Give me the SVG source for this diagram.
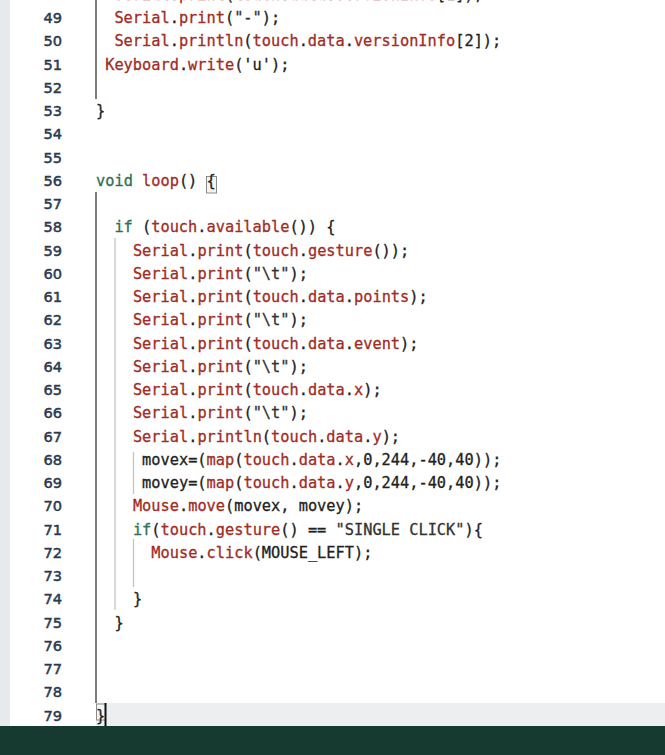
<svg xmlns="http://www.w3.org/2000/svg" width="665" height="755" viewBox="0 0 665 755">
<style>
.code{font-family:"DejaVu Sans Mono","Liberation Mono",monospace;font-size:15.3px;fill:#222;stroke:#222;stroke-width:0.3px;white-space:pre}
.r{fill:#a12c24;stroke:#a12c24}
.g{fill:#2f7052;stroke:#2f7052}
.s{fill:#333;stroke:#333}
.ln{font-family:"DejaVu Sans","Liberation Sans",sans-serif;font-size:14.6px;fill:#2a3a50;stroke:#2a3a50;stroke-width:0.5px;text-anchor:end}
.guide{stroke:#c4c4c4;stroke-width:1.3}
.scope{stroke:#5c5c5c;stroke-width:1.6}
</style>
<rect width="665" height="755" fill="#ffffff"/>
<g id="gutter">
<rect x="0" y="0" width="10" height="726" fill="#e6eaec"/>
<text class="ln" x="62" y="23.2">49</text>
<text class="ln" x="62" y="46.45">50</text>
<text class="ln" x="62" y="69.7">51</text>
<text class="ln" x="62" y="92.95">52</text>
<text class="ln" x="62" y="116.2">53</text>
<text class="ln" x="62" y="139.45">54</text>
<text class="ln" x="62" y="162.7">55</text>
<text class="ln" x="62" y="185.95">56</text>
<text class="ln" x="62" y="209.2">57</text>
<text class="ln" x="62" y="232.45">58</text>
<text class="ln" x="62" y="255.7">59</text>
<text class="ln" x="62" y="278.95">60</text>
<text class="ln" x="62" y="302.2">61</text>
<text class="ln" x="62" y="325.45">62</text>
<text class="ln" x="62" y="348.7">63</text>
<text class="ln" x="62" y="371.95">64</text>
<text class="ln" x="62" y="395.2">65</text>
<text class="ln" x="62" y="418.45">66</text>
<text class="ln" x="62" y="441.7">67</text>
<text class="ln" x="62" y="464.95">68</text>
<text class="ln" x="62" y="488.2">69</text>
<text class="ln" x="62" y="511.45">70</text>
<text class="ln" x="62" y="534.7">71</text>
<text class="ln" x="62" y="557.95">72</text>
<text class="ln" x="62" y="581.2">73</text>
<text class="ln" x="62" y="604.45">74</text>
<text class="ln" x="62" y="627.7">75</text>
<text class="ln" x="62" y="650.95">76</text>
<text class="ln" x="62" y="674.2">77</text>
<text class="ln" x="62" y="697.45">78</text>
<text class="ln" x="62" y="720.7">79</text>
</g>
<g id="current-line">
<rect x="96" y="703" width="569" height="23" fill="#eceeef"/>
</g>
<g id="guides">
<line class="scope" x1="96" y1="0" x2="96" y2="99"/>
<line class="scope" x1="96" y1="192" x2="96" y2="703"/>
<line class="guide" x1="115" y1="238" x2="115" y2="610"/>
<line class="guide" x1="133.5" y1="452" x2="133.5" y2="494"/>
<line class="guide" x1="133.5" y1="539" x2="133.5" y2="587"/>
</g>
<g id="bracket-marks">
<rect x="206.5" y="176.5" width="10" height="16.5" fill="#f4f4f4" stroke="#8a8a8a" stroke-width="1"/>
<rect x="96.5" y="704" width="9" height="16" fill="#f4f4f4" stroke="#8a8a8a" stroke-width="1"/>
</g>
<g id="code">
<text class="code" x="114.4" y="-0.05"><tspan class="r">Serial</tspan>.<tspan class="r">print</tspan>(<tspan class="r">touch</tspan>.<tspan class="r">data</tspan>.<tspan class="r">versionInfo</tspan>[1]);</text>
<text class="code" x="114.4" y="23.2"><tspan class="r">Serial</tspan>.<tspan class="r">print</tspan>(<tspan class="s">"-"</tspan>);</text>
<text class="code" x="114.4" y="46.45"><tspan class="r">Serial</tspan>.<tspan class="r">println</tspan>(<tspan class="r">touch</tspan>.<tspan class="r">data</tspan>.<tspan class="r">versionInfo</tspan>[2]);</text>
<text class="code" x="105.2" y="69.7"><tspan class="r">Keyboard</tspan>.<tspan class="r">write</tspan>('u');</text>
<text class="code" x="96" y="116.2">}</text>
<text class="code" x="96" y="185.95"><tspan class="g">void</tspan> <tspan class="r">loop</tspan>() {</text>
<text class="code" x="114.4" y="232.45"><tspan class="g">if</tspan> (<tspan class="r">touch</tspan>.<tspan class="r">available</tspan>()) {</text>
<text class="code" x="132.9" y="255.7"><tspan class="r">Serial</tspan>.<tspan class="r">print</tspan>(<tspan class="r">touch</tspan>.<tspan class="r">gesture</tspan>());</text>
<text class="code" x="132.9" y="278.95"><tspan class="r">Serial</tspan>.<tspan class="r">print</tspan>(<tspan class="s">"\t"</tspan>);</text>
<text class="code" x="132.9" y="302.2"><tspan class="r">Serial</tspan>.<tspan class="r">print</tspan>(<tspan class="r">touch</tspan>.<tspan class="r">data</tspan>.<tspan class="r">points</tspan>);</text>
<text class="code" x="132.9" y="325.45"><tspan class="r">Serial</tspan>.<tspan class="r">print</tspan>(<tspan class="s">"\t"</tspan>);</text>
<text class="code" x="132.9" y="348.7"><tspan class="r">Serial</tspan>.<tspan class="r">print</tspan>(<tspan class="r">touch</tspan>.<tspan class="r">data</tspan>.<tspan class="r">event</tspan>);</text>
<text class="code" x="132.9" y="371.95"><tspan class="r">Serial</tspan>.<tspan class="r">print</tspan>(<tspan class="s">"\t"</tspan>);</text>
<text class="code" x="132.9" y="395.2"><tspan class="r">Serial</tspan>.<tspan class="r">print</tspan>(<tspan class="r">touch</tspan>.<tspan class="r">data</tspan>.<tspan class="r">x</tspan>);</text>
<text class="code" x="132.9" y="418.45"><tspan class="r">Serial</tspan>.<tspan class="r">print</tspan>(<tspan class="s">"\t"</tspan>);</text>
<text class="code" x="132.9" y="441.7"><tspan class="r">Serial</tspan>.<tspan class="r">println</tspan>(<tspan class="r">touch</tspan>.<tspan class="r">data</tspan>.<tspan class="r">y</tspan>);</text>
<text class="code" x="142.1" y="464.95">movex=(<tspan class="r">map</tspan>(<tspan class="r">touch</tspan>.<tspan class="r">data</tspan>.<tspan class="r">x</tspan>,0,244,-40,40));</text>
<text class="code" x="142.1" y="488.2">movey=(<tspan class="r">map</tspan>(<tspan class="r">touch</tspan>.<tspan class="r">data</tspan>.<tspan class="r">y</tspan>,0,244,-40,40));</text>
<text class="code" x="132.9" y="511.45"><tspan class="r">Mouse</tspan>.<tspan class="r">move</tspan>(movex, movey);</text>
<text class="code" x="132.9" y="534.7"><tspan class="g">if</tspan>(<tspan class="r">touch</tspan>.<tspan class="r">gesture</tspan>() == <tspan class="s">"SINGLE CLICK"</tspan>){</text>
<text class="code" x="151.3" y="557.95"><tspan class="r">Mouse</tspan>.<tspan class="r">click</tspan>(MOUSE_LEFT);</text>
<text class="code" x="132.9" y="604.45">}</text>
<text class="code" x="114.4" y="627.7">}</text>
<text class="code" x="96" y="720.7">}</text>
</g>
<g id="cursor">
<line x1="105.5" y1="703" x2="105.5" y2="726" stroke="#111" stroke-width="2"/>
</g>
<g id="status-bar">
<rect x="0" y="726" width="665" height="29" fill="#173a30"/>
</g>
</svg>
